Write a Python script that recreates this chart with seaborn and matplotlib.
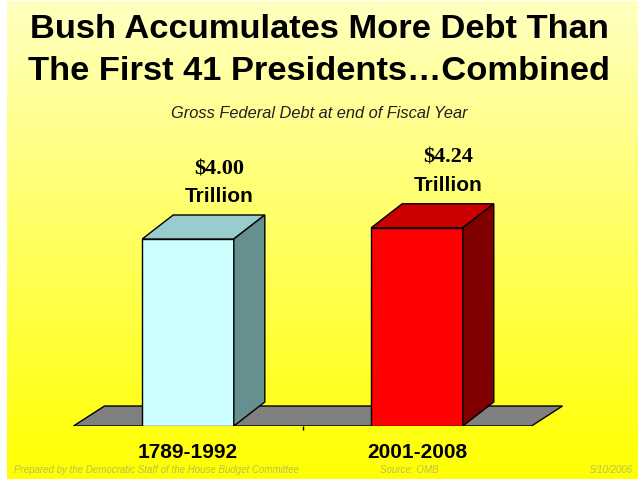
import numpy as np
import pandas as pd
import matplotlib
matplotlib.use('Agg')
import matplotlib.pyplot as plt
from matplotlib.colors import LinearSegmentedColormap
from matplotlib.patches import Polygon
import seaborn as sns

# 数据
periods = ['1789-1992', '2001-2008']
debt = [4.00, 4.24]
value_labels = ['$4.00', '$4.24']
front_colors = ['#CCFFFF', '#FF0000']
top_colors = ['#99CCCC', '#CC0000']
side_colors = ['#668F8F', '#800000']

sns.set_theme(style='white')
plt.rcParams['font.family'] = ['Liberation Sans', 'DejaVu Sans']

W, H = 638, 479
fig = plt.figure(figsize=(6.38, 4.79), dpi=100, facecolor='white')

# 背景渐变 (左边留一条白边)
bg = fig.add_axes([7 / W, 0, 1 - 7 / W, 1 - 1 / H], zorder=0)
cmap = LinearSegmentedColormap.from_list('yel', ['#FFFF00', '#FFFFC0'])
grad = np.linspace(0, 1, 256).reshape(-1, 1)
bg.imshow(grad, aspect='auto', cmap=cmap, extent=[0, 1, 0, 1], origin='lower')
bg.axis('off')

# 主图 (像素换算: 0 在 188px, 每单位 229px; y 每万亿 46.75px)
px_unit_x, px_unit_y = 229.0, 46.75
left_px, right_px, base_px, top_px = 60, 580, 426, 130
ax = fig.add_axes([left_px / W, (H - base_px) / H, (right_px - left_px) / W,
                   (base_px - top_px) / H], zorder=1)
ax.patch.set_alpha(0)

dx = 31 / px_unit_x
dy = 24 / px_unit_y
floor_dy = 20 / px_unit_y

# 地板
floor = Polygon([(-0.5, 0), (-0.5 + dx, floor_dy), (1.5 + dx, floor_dy), (1.5, 0)],
                closed=True, facecolor='#808080', edgecolor='black', lw=1, zorder=1)
ax.add_patch(floor)

df = pd.DataFrame({'period': periods, 'debt': debt})
sns.barplot(data=df, x='period', y='debt', hue='period', palette=front_colors,
            legend=False, width=0.4, edgecolor='black', linewidth=1, ax=ax, zorder=3,
            saturation=1)
ax.set_xlim((left_px - 188) / px_unit_x, (right_px - 188) / px_unit_x)
ax.set_ylim(0, (base_px - top_px) / px_unit_y)

for i, p in enumerate(ax.patches[1:]):
    x0 = p.get_x()
    x1 = x0 + p.get_width()
    h = p.get_height()
    top = Polygon([(x0, h), (x0 + dx, h + dy), (x1 + dx, h + dy), (x1, h)],
                  closed=True, facecolor=top_colors[i], edgecolor='black', lw=1, zorder=4)
    side = Polygon([(x1, 0), (x1 + dx, dy), (x1 + dx, h + dy), (x1, h)],
                   closed=True, facecolor=side_colors[i], edgecolor='black', lw=1, zorder=4)
    ax.add_patch(top)
    ax.add_patch(side)
    cx = x0 + p.get_width() / 2 + dx
    ax.annotate('Trillion', (cx, h + dy), xytext=(0, 13), textcoords='offset points',
                ha='center', va='center', fontsize=15, fontweight='bold', color='black')
    ax.annotate(value_labels[i], (cx, h + dy), xytext=(0, 33), textcoords='offset points',
                ha='center', va='center', fontsize=16, fontweight='bold', color='black',
                family='Liberation Serif')

for s in ax.spines.values():
    s.set_visible(False)
ax.set_yticks([])
ax.set_xlabel('')
ax.set_ylabel('')
ax.set_xticks([0, 1])
ax.set_xticklabels(periods, fontsize=15, fontweight='bold', color='black')
ax.set_xticks([0.5], minor=True)
ax.tick_params(axis='x', which='major', length=0, pad=12)
ax.tick_params(axis='x', which='minor', bottom=True, length=3, width=1, color='black',
               direction='out')

# 标题
fig.text(0.5, 1 - 30 / H, 'Bush Accumulates More Debt Than', ha='center', va='center',
         fontsize=24.8, fontweight='bold', color='black')
fig.text(0.5, 1 - 72 / H, 'The First 41 Presidents\u2026Combined', ha='center', va='center',
         fontsize=24.8, fontweight='bold', color='black')
fig.text(0.5, 1 - 113 / H, 'Gross Federal Debt at end of Fiscal Year', ha='center',
         va='center', fontsize=11.8, style='italic', color='#202020')

# 脚注
foot_color = '#BDBD5A'
fig.text(14 / W, 1 - 470 / H, 'Prepared by the Democratic Staff of the House Budget Committee',
         ha='left', va='center', fontsize=7, style='italic', color=foot_color)
fig.text(409 / W, 1 - 470 / H, 'Source: OMB', ha='center', va='center', fontsize=7,
         style='italic', color=foot_color)
fig.text(633 / W, 1 - 470 / H, '5/10/2006', ha='right', va='center', fontsize=7,
         style='italic', color=foot_color)

fig.savefig('out.png', dpi=100, facecolor='white')
